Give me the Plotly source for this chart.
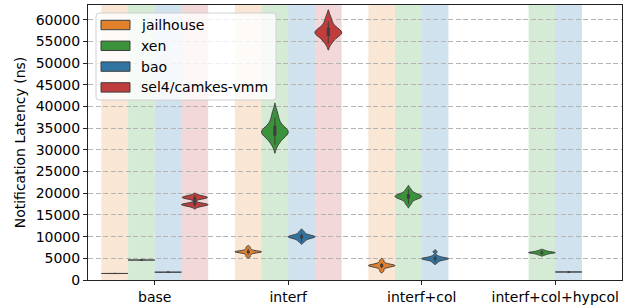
import plotly.graph_objects as go

categories = ["base", "interf", "interf+col", "interf+col+hypcol"]
hues = ["jailhouse", "xen", "bao", "sel4/camkes-vmm"]
hue_colors = ["#e1812c", "#3a923a", "#3274a1", "#c03d3e"]
span_colors = ["rgba(225,129,44,0.2)", "rgba(50,155,50,0.2)",
               "rgba(35,118,176,0.21)", "rgba(192,61,62,0.2)"]

# latency samples (ns)
jailhouse_base = [1490, 1500, 1505, 1510, 1500, 1495, 1515, 1500, 1505, 1510]
jailhouse_interf = [5400, 5800, 6100, 6300, 6400, 6450, 6500, 6500, 6550, 6600,
                    6700, 6900, 7200, 7600]
jailhouse_interf_col = [2100, 2700, 3000, 3150, 3250, 3300, 3350, 3400, 3500,
                        3650, 3950, 4500]

xen_base = [4580, 4600, 4610, 4620, 4600, 4590, 4630, 4600, 4610]
xen_interf = [31200, 32100, 32700, 33200, 33500, 33800, 34000, 34200, 34300,
              34500, 34800, 35200, 35800, 36600, 37500, 38800]
xen_interf_col = [17500, 18200, 18700, 18900, 19100, 19200, 19300, 19400,
                  19600, 19800, 20200, 20900]
xen_hypcol = [5800, 6000, 6150, 6250, 6300, 6330, 6370, 6450, 6600, 6800]

bao_base = [1780, 1800, 1810, 1820, 1800, 1790, 1830, 1800, 1810]
bao_interf = [8800, 9200, 9500, 9700, 9800, 9900, 10000, 10000, 10100, 10200,
              10400, 10700, 11200]
bao_interf_col = [4000, 4400, 4650, 4750, 4850, 4900, 4950, 5000, 5100, 5250,
                  5600, 6500]
bao_hypcol = [1830, 1840, 1850, 1850, 1860, 1850, 1845, 1855]

sel4_base = [16900, 17200, 17300, 17350, 17400, 17450, 17500, 17700,
             18700, 18850, 18950, 19000, 19050, 19150, 19300, 19500]
sel4_interf = [54600, 55300, 55900, 56300, 56600, 56800, 57000, 57100, 57300,
               57500, 57800, 58200, 58800, 59600, 60700]

# KDE bandwidth per violin (None = automatic)
bandwidths = {("sel4/camkes-vmm", "base"): 280}

data = {
    "jailhouse": {"base": jailhouse_base, "interf": jailhouse_interf,
                  "interf+col": jailhouse_interf_col},
    "xen": {"base": xen_base, "interf": xen_interf, "interf+col": xen_interf_col,
            "interf+col+hypcol": xen_hypcol},
    "bao": {"base": bao_base, "interf": bao_interf, "interf+col": bao_interf_col,
            "interf+col+hypcol": bao_hypcol},
    "sel4/camkes-vmm": {"base": sel4_base, "interf": sel4_interf},
}

y_ticks = list(range(0, 60001, 5000))

FONT = "DejaVu Sans"
FS = 14
EDGE = "#3f3f3f"
W, H = 634, 307
ML, MR, MT, MB = 88, 12, 5, 27
PW, PH = W - ML - MR, H - MT - MB


def px_x(px):
    return (px - ML) / PW


def px_y(py):
    return (H - MB - py) / PH


fig = go.Figure()

# background spans for each hue slot that has data
slot_w = 0.8 / len(hues)
shapes = []
for ci, cat in enumerate(categories):
    for hi, h in enumerate(hues):
        if cat in data[h]:
            x0 = ci - 0.4 + hi * slot_w
            shapes.append(dict(type="rect", xref="x", yref="paper",
                               x0=x0, x1=x0 + slot_w, y0=0, y1=1,
                               fillcolor=span_colors[hi], line_width=0,
                               layer="below"))

for hi, h in enumerate(hues):
    for cat in categories:
        vals = data[h].get(cat)
        if not vals:
            continue
        kw = {}
        bw = bandwidths.get((h, cat))
        if bw:
            kw["bandwidth"] = bw
        fig.add_trace(go.Violin(
            x=[cat] * len(vals), y=vals, name=h, showlegend=False,
            offsetgroup=h, alignmentgroup="all", scalegroup=f"{h}|{cat}",
            fillcolor=hue_colors[hi], opacity=1,
            line=dict(color=EDGE, width=1),
            box=dict(visible=True, width=0.08, fillcolor=EDGE,
                     line=dict(color=EDGE, width=1)),
            meanline=dict(visible=False), points=False,
            spanmode="soft", scalemode="width", hoverinfo="skip", **kw,
        ))

# legend drawn as a framed box with patches
annotations = []
lx0, lx1, ly0, ly1 = px_x(96), px_x(276), px_y(13), px_y(100)
rx, ry = 3 / PW, 3 / PH
box_path = (f"M{lx0+rx},{ly0} L{lx1-rx},{ly0} Q{lx1},{ly0} {lx1},{ly0-ry} "
            f"L{lx1},{ly1+ry} Q{lx1},{ly1} {lx1-rx},{ly1} L{lx0+rx},{ly1} "
            f"Q{lx0},{ly1} {lx0},{ly1+ry} L{lx0},{ly0-ry} Q{lx0},{ly0} {lx0+rx},{ly0} Z")
shapes.append(dict(type="path", xref="paper", yref="paper", path=box_path,
                   fillcolor="rgba(255,255,255,0.8)",
                   line=dict(color="#d0d0d0", width=1), layer="above"))
for hi, h in enumerate(hues):
    cy = 25 + hi * 20.8
    shapes.append(dict(type="rect", xref="paper", yref="paper",
                       x0=px_x(101), x1=px_x(130), y0=px_y(cy - 4.7), y1=px_y(cy + 4.7),
                       fillcolor=hue_colors[hi], line=dict(color=EDGE, width=1),
                       layer="above"))
    annotations.append(dict(xref="paper", yref="paper", x=px_x(139), y=px_y(cy),
                            xanchor="left", yanchor="middle", text=h,
                            showarrow=False, font=dict(size=FS, color="black")))

fig.update_layout(
    width=W, height=H,
    margin=dict(l=ML, r=MR, t=MT, b=MB),
    paper_bgcolor="white", plot_bgcolor="white",
    violinmode="group", violingap=0.2, violingroupgap=0,
    font=dict(family=FONT, size=FS, color="black"),
    shapes=shapes, annotations=annotations, showlegend=False,
)
fig.update_xaxes(type="category", categoryorder="array", categoryarray=categories,
                 range=[-0.5, 3.5], showline=True, linecolor="#222222", linewidth=1,
                 mirror=True, ticks="outside", ticklen=4, tickcolor="#222222",
                 showgrid=False, tickfont=dict(size=FS), automargin=False)
fig.update_yaxes(range=[0, 63400], tickvals=y_ticks,
                 ticktext=[str(v) for v in y_ticks],
                 showline=True, linecolor="#222222", linewidth=1, mirror=True,
                 ticks="outside", ticklen=4, tickcolor="#222222",
                 showgrid=True, gridcolor="#b4b4b4", griddash="5px,2.5px", gridwidth=1,
                 zeroline=False, tickfont=dict(size=FS), automargin=False,
                 title=dict(text="Notification Latency (ns)", font=dict(size=FS),
                            standoff=6))

fig.write_html("out.html", config={"displayModeBar": False},
               post_script="document.body.style.margin='0px';"
                           "document.body.style.overflow='hidden';")
